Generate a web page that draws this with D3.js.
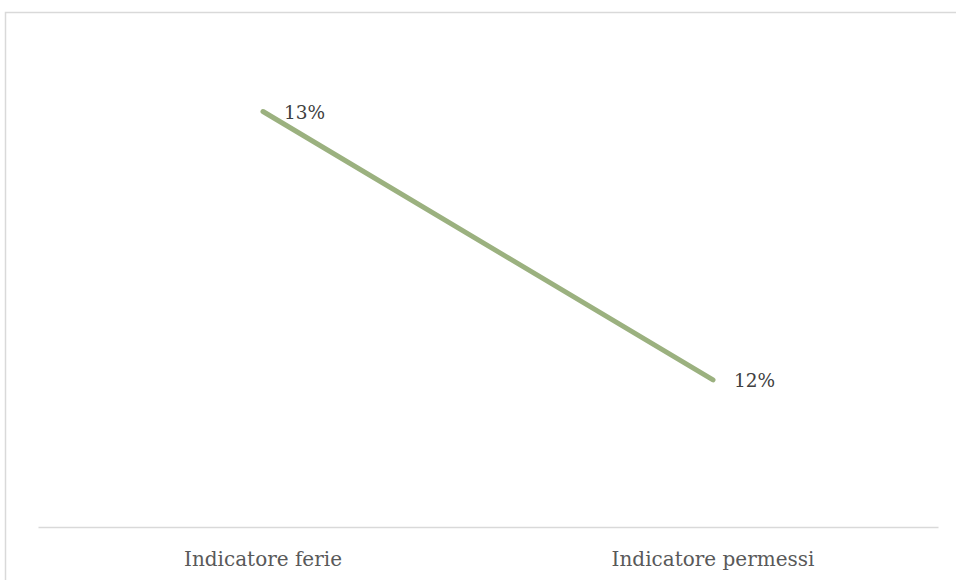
<!DOCTYPE html>
<html><head><meta charset="utf-8">
<script src="https://cdn.jsdelivr.net/npm/d3@7"></script>
<style>body{margin:0;background:#fff}svg{display:block}</style>
</head><body>
<script>
const categories = ["Indicatore ferie", "Indicatore permessi"];
const values = [0.1309, 0.1174];
const yDomain = [0.11, 0.135];

const W = 956, H = 580;
const svg = d3.select("body").append("svg").attr("width", W).attr("height", H);

svg.append("rect").attr("x", 5.5).attr("y", 12.5).attr("width", 960).attr("height", 580)
  .attr("fill", "#fff").attr("stroke", "#d9d9d9").attr("stroke-width", 1.5);

const x = d3.scaleBand().domain(categories).range([38, 938]);
const y = d3.scaleLinear().domain(yDomain).range([527, 30]);

const font = "'DejaVu Serif', 'Liberation Serif', serif";

const xAxis = svg.append("g").attr("transform", "translate(0,527)")
  .call(d3.axisBottom(x).tickSize(0).tickPadding(27));
xAxis.select(".domain").attr("stroke", "#d9d9d9").attr("stroke-width", 1.5);
xAxis.selectAll("text").attr("font-family", font)
  .attr("font-size", 20).attr("fill", "#595959").attr("dy", "0.6em");

const data = categories.map((c, i) => ({c, v: values[i]}));
const line = d3.line().x(d => x(d.c) + x.bandwidth() / 2).y(d => y(d.v));
svg.append("path").datum(data).attr("d", line).attr("fill", "none")
  .attr("stroke", "#9bb17f").attr("stroke-width", 5).attr("stroke-linecap", "round");

svg.selectAll(".lbl").data(data).enter().append("text")
  .attr("x", d => x(d.c) + x.bandwidth() / 2 + 21)
  .attr("y", d => y(d.v) + 2)
  .attr("dominant-baseline", "middle")
  .attr("font-family", font)
  .attr("font-size", 18.5).attr("fill", "#404040")
  .text(d => d3.format(".0%")(d.v));
</script>
</body></html>
